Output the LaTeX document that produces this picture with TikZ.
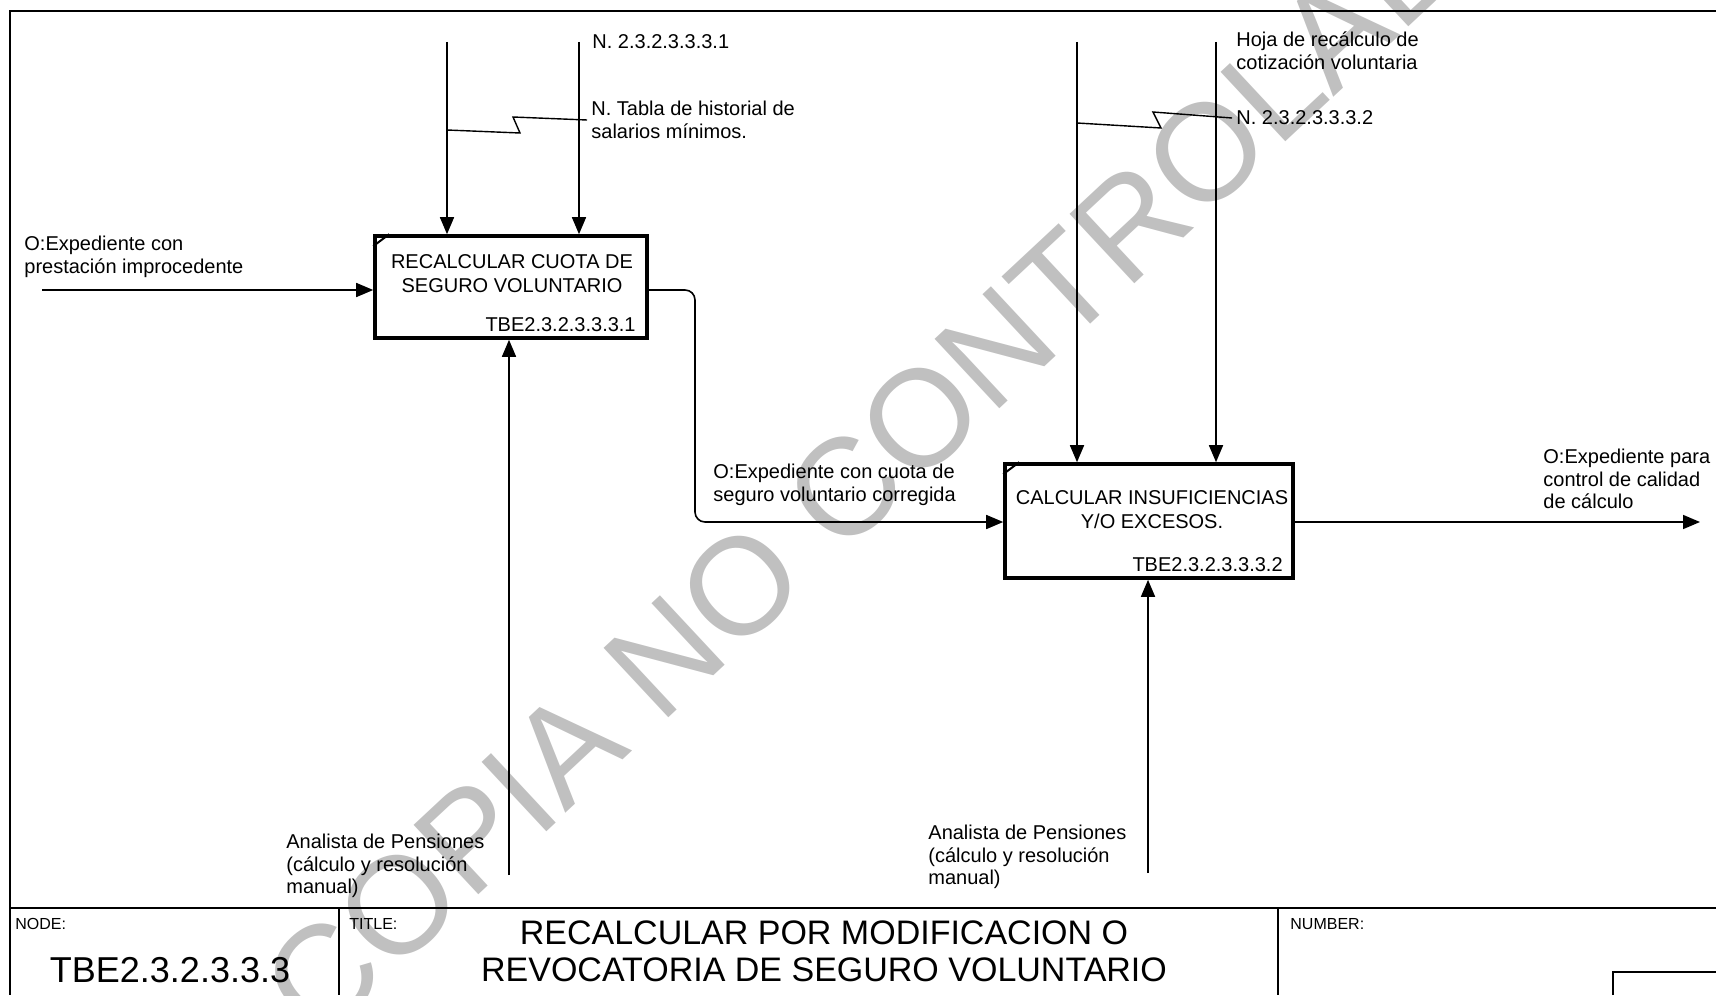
\documentclass[tikz,border=0pt]{standalone}
\usepackage{fontspec}
\setmainfont{Liberation Sans}
\usepackage{tikz}
\usetikzlibrary{
  arrows.meta,
  calc,
  positioning
}
\definecolor{wmgray}{RGB}{192,192,192}
\tikzset{
  flow/.style={line width=0.8pt,-{Triangle[length=8.5pt,width=7pt]}},
  squig/.style={line width=0.7pt},
  frame/.style={line width=1.1pt},
  procbox/.style={draw,line width=1.8pt,inner sep=0pt},
  boxtext/.style={align=center,inner sep=0pt,font=\fontsize{10}{12}\selectfont},
  boxid/.style={anchor=east,inner sep=0pt,font=\fontsize{10}{12}\selectfont},
  lbl/.style={anchor=west,align=left,inner sep=2pt,font=\fontsize{10}{11.3}\selectfont},
  tag/.style={anchor=west,inner sep=0pt,font=\fontsize{8}{9}\selectfont},
  wmark/.style={anchor=base,rotate=43,text=wmgray,inner sep=0pt,font=\fontsize{69}{69}\selectfont}
}

\begin{document}
\begin{tikzpicture}[x=0.5pt,y=-0.5pt,>=Latex]
  \useasboundingbox (0,0) rectangle (1716,995);
  \node[wmark] (wm) at (930,474) {COPIA NO CONTROLADA};

  \draw[frame] (1716,11) -- (10,11) -- (10,995);
  \draw[frame] (10,908) -- (1716,908);
  \draw[frame] (339,908) -- (339,995);
  \draw[frame] (1278,908) -- (1278,995);
  \draw[frame] (1613,995) -- (1613,972) -- (1716,972);
  \node[tag] (nodetag) at (15,924) {NODE:};
  \node[tag] (titletag) at (349,924) {TITLE:};
  \node[tag] (numtag) at (1290,924) {NUMBER:};
  \node[inner sep=0pt,font=\fontsize{18}{20}\selectfont] (nodeid) at (170,970) {TBE2.3.2.3.3.3};
  \node[align=center,inner sep=0pt,font=\fontsize{17}{18.5}\selectfont] (title) at (824,951)
    {RECALCULAR POR MODIFICACION O\\REVOCATORIA DE SEGURO VOLUNTARIO};

  \node[procbox,minimum width=136pt,minimum height=51pt] (b1) at (511,287) {};
  \node[procbox,minimum width=144pt,minimum height=57pt] (b2) at (1149,521) {};
  \draw[line width=1pt] ([yshift=-6pt]b1.north west) -- ([xshift=8pt]b1.north west);
  \draw[line width=1pt] ([yshift=-6pt]b2.north west) -- ([xshift=8pt]b2.north west);
  \node[boxtext] (b1txt) at (512,274) {RECALCULAR CUOTA DE\\SEGURO VOLUNTARIO};
  \node[boxid] (b1id) at (636,325) {TBE2.3.2.3.3.3.1};
  \node[boxtext] (b2txt) at (1152,510) {CALCULAR INSUFICIENCIAS\\Y/O EXCESOS.};
  \node[boxid] (b2id) at (1283,565) {TBE2.3.2.3.3.3.2};

  \coordinate (t1) at (447,42);
  \coordinate (t2) at (579,42);
  \coordinate (t3) at (1077,42);
  \coordinate (t4) at (1216,42);
  \coordinate (in1) at (42,290);
  \coordinate (bend) at (695,522);
  \coordinate (out2) at (1700,522);
  \coordinate (m1) at (509,875);
  \coordinate (m2) at (1148,873);
  \coordinate (s1) at (447,130);
  \coordinate (s2) at (1077,123);

  \node[lbl] (lblN1) at (588,42) {N. 2.3.2.3.3.3.1};
  \node[lbl] (lblTabla) at (587,120) {N. Tabla de historial de\\salarios mínimos.};
  \node[lbl] (lblIn) at (20,257) {O:Expediente con\\prestación improcedente};
  \node[lbl] (lblMech1) at (282,866) {Analista de Pensiones\\(cálculo y resolución\\manual)};
  \node[lbl] (lblMid) at (709,485) {O:Expediente con cuota de\\seguro voluntario corregida};
  \node[lbl] (lblHoja) at (1232,51) {Hoja de recálculo de\\cotización voluntaria};
  \node[lbl] (lblN2) at (1232,118) {N. 2.3.2.3.3.3.2};
  \node[lbl] (lblOut) at (1539,479) {O:Expediente para\\control de calidad\\de cálculo};
  \node[lbl] (lblMech2) at (924,857) {Analista de Pensiones\\(cálculo y resolución\\manual)};

  \foreach \c/\b in {t1/b1,t2/b1,t3/b2,t4/b2}
    \draw[flow] (\c) -- (\c |- \b.north);
  \foreach \c/\b in {m1/b1,m2/b2}
    \draw[flow] (\c) -- (\c |- \b.south);
  \draw[flow] (in1) -- (in1 -| b1.west);
  \draw[flow,rounded corners=5pt] (in1 -| b1.east) -| (bend) -- (bend -| b2.west);
  \draw[flow] (bend -| b2.east) -- (out2);
  \draw[squig] (s1) -- ++(73,3) -- ++(-7,-16) -- (lblTabla.west);
  \draw[squig] (s2) -- ++(84,5) -- ++(-8,-16) -- (lblN2.west);
\end{tikzpicture}
\end{document}
